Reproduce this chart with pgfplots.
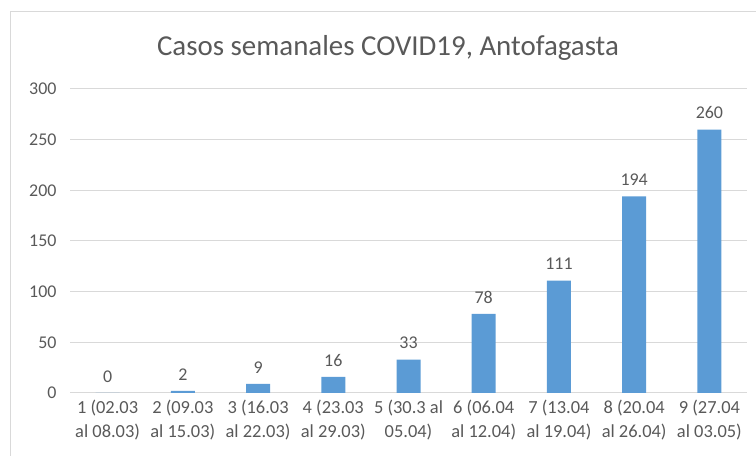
\documentclass[border=0pt]{standalone}
\usepackage{pgfplots}
\pgfplotsset{compat=1.18}
\usepackage{fontspec}
\setmainfont{Carlito}
\definecolor{txt}{HTML}{595959}
\definecolor{barc}{HTML}{5B9BD5}
\definecolor{gridc}{HTML}{D9D9D9}
\begin{document}
\begin{tikzpicture}[x=1bp,y=1bp]
\useasboundingbox (0,0) rectangle (756,456);
\draw[gridc, line width=1bp] (10,0) -- (10,444) -- (760,444);
\node[txt, font=\fontsize{29}{32}\selectfont] at (388,408) {Casos semanales COVID19, Antofagasta};
\begin{axis}[
  at={(70bp,63bp)}, anchor=south west,
  scale only axis, width=677bp, height=304bp,
  xmin=-0.5, xmax=8.5, ymin=0, ymax=300,
  ytick={0,50,...,300},
  xtick=data,
  xticklabels={{1 (02.03\\al 08.03)},{2 (09.03\\al 15.03)},{3 (16.03\\al 22.03)},{4 (23.03\\al 29.03)},{5 (30.3 al\\05.04)},{6 (06.04\\al 12.04)},{7 (13.04\\al 19.04)},{8 (20.04\\al 26.04)},{9 (27.04\\al 03.05)}},
  xticklabel style={align=center, font=\fontsize{18.5}{24}\selectfont, text=txt, yshift=-4bp},
  yticklabel style={font=\fontsize{18}{21}\selectfont, text=txt, xshift=-10bp},
  /pgf/number format/assume math mode=true,
  axis line style={draw=none},
  axis x line*=bottom,
  x axis line style={draw=gridc, line width=1bp},
  ymajorgrids, grid style={gridc, line width=1bp},
  major tick length=0pt,
  ybar, bar width=24bp,
  nodes near coords,
  nodes near coords style={font=\fontsize{18}{21}\selectfont, text=txt, yshift=7bp},
  clip=false,
]
\addplot[fill=barc, draw=none] coordinates {(0,0) (1,2) (2,9) (3,16) (4,33) (5,78) (6,111) (7,194) (8,260)};
\end{axis}
\end{tikzpicture}
\end{document}
